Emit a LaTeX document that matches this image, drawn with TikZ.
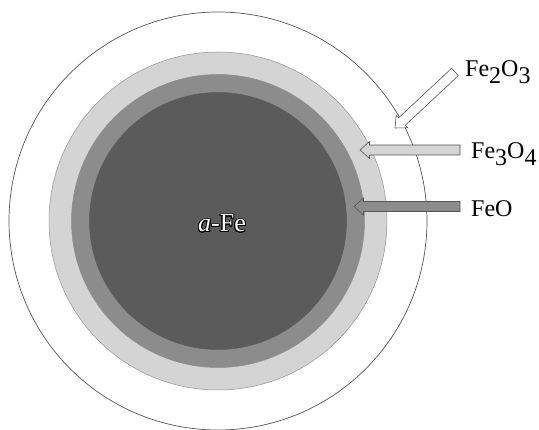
\documentclass[tikz,border=0pt]{standalone}
\usepackage{fontspec}
\setmainfont{Liberation Serif}
\usepackage[copies]{contour}
\contourlength{0.9pt}
\contournumber{24}
\usetikzlibrary{calc}
\definecolor{ringline}{HTML}{555555}
\definecolor{magnetite}{HTML}{D4D4D4}
\definecolor{wustite}{HTML}{8C8C8C}
\definecolor{ironcore}{HTML}{5B5B5B}
\tikzset{
  layer/.style={circle, inner sep=0pt, line width=0.5pt},
  arrowline/.style={draw=ringline, line width=0.6pt, line join=miter},
  phase/.style={font=\fontsize{24}{28}\selectfont, anchor=base west, inner sep=0pt}
}
% lowered full-size digit used for the chemical formulas
\newcommand\lowdigit[1]{\raisebox{-7pt}{#1}}
% block arrow: fill colour, tail, tip
\newcommand\shellarrow[3]{%
  \coordinate (hb) at ($(#3)!9.5pt!(#2)$);
  \draw[arrowline, fill=#1]
    ($(#2)!5pt!90:(#3)$) -- ($(hb)!5pt!90:(#3)$) -- ($(hb)!8.5pt!90:(#3)$)
    -- (#3)
    -- ($(hb)!8.5pt!-90:(#3)$) -- ($(hb)!5pt!-90:(#3)$) -- ($(#2)!5pt!-90:(#3)$)
    -- cycle;}
\begin{document}
\begin{tikzpicture}[x=1pt, y=-1pt]
  \useasboundingbox (0,0) rectangle (539,430);
  % concentric oxide shells around the iron core
  \begin{scope}
    \clip (0,0) rectangle (539,430);
    \node[circle, inner sep=0pt, draw=ringline, line width=0.7pt, fill=white,
      minimum size=418pt] (hematite) at (218,221) {};
  \end{scope}
  \node[layer, fill=magnetite, draw=gray!85, minimum size=338pt] (fe3o4) at (218,221) {};
  \node[layer, fill=wustite, draw=wustite, minimum size=293pt] (feo) at (218,221) {};
  \node[layer, fill=ironcore, draw=ironcore, minimum size=257pt] (core) at (218,221) {};
  \node[font=\fontsize{26}{30}\selectfont, anchor=base west, inner sep=0pt] (corelabel)
    at (198,232) {\contour{black}{\textcolor{white}{\textit{a}-Fe}}};

  % phase labels
  \node[phase] (l1) at (465,77) {Fe\lowdigit{2}O\lowdigit{3}};
  \node[phase] (l2) at (471,159) {Fe\lowdigit{3}O\lowdigit{4}};
  \node[phase] (l3) at (471,217) {FeO};

  % arrows pointing at each shell
  \coordinate (s1) at (455,72);
  \coordinate (t1) at (395,128);
  \coordinate (s2) at (460,150);
  \coordinate (t2) at (360,150);
  \coordinate (s3) at (460,206.5);
  \coordinate (t3) at (354,206.5);
  \shellarrow{white}{s1}{t1}
  \shellarrow{magnetite}{s2}{t2}
  \shellarrow{wustite}{s3}{t3}
\end{tikzpicture}
\end{document}
